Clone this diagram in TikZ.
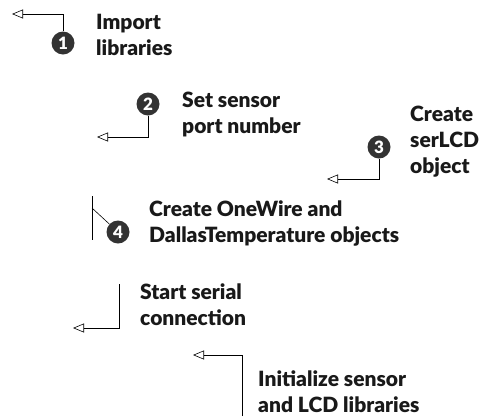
\documentclass[tikz,border=0pt]{standalone}
\usepackage{fontspec}
\setmainfont{Lato}[BoldFont={Lato Black}]
\usetikzlibrary{arrows.meta,positioning}

\begin{document}
\begin{tikzpicture}[x=1pt,y=-1pt,
  every node/.style={font=\fontsize{21}{26}\selectfont\bfseries},
  lbl/.style={anchor=base west,align=left,inner sep=0pt,text=black!90},
  num/.style={circle,fill=black!80,text=white,inner sep=0pt,minimum size=23pt,font=\fontsize{17}{17}\selectfont\bfseries},
  callout/.style={line width=.8pt,-{Triangle[open,length=11pt,width=9pt,line width=.6pt]}}]
\useasboundingbox (0,0) rectangle (479,416);
% 1
\node[num] (c1) at (63,43) {1};
\coordinate (a1) at (12,14);
\draw[callout] (c1.north) |- (a1);
\node[lbl] (t1) at (96,55) {Import\\libraries};
% 2
\node[num] (c2) at (148,104) {2};
\coordinate (a2) at (97,137);
\draw[callout] (c2.south) |- (a2);
\node[lbl] (t2) at (182,133) {Set sensor\\port number};
% 3
\node[num] (c3) at (379,147) {3};
\coordinate (a3) at (327,179);
\draw[callout] (c3.south) |- (a3);
\node[lbl] (t3) at (410,173) {Create\\serLCD\\object};
% 4
\node[num] (c4) at (118,232) {4};
\coordinate (b4) at (92,196);
\coordinate (e4) at (92,240);
\coordinate (d4) at (92,208);
\draw[line width=.8pt] (b4) -- (e4);
\draw[line width=.6pt] (d4) -- (c4);
\node[lbl] (t4) at (149,242) {Create OneWire and\\DallasTemperature objects};
% 5
\coordinate (s5) at (119,284);
\coordinate (a5) at (73,328);
\draw[callout] (s5) |- (a5);
\node[lbl] (t5) at (140,325) {Start serial\\connection};
% 6
\coordinate (s6) at (242,416);
\coordinate (a6) at (193,355);
\draw[callout] (s6) |- (a6);
\node[lbl] (t6) at (258,412) {Initialize sensor\\and LCD libraries};
\end{tikzpicture}
\end{document}
